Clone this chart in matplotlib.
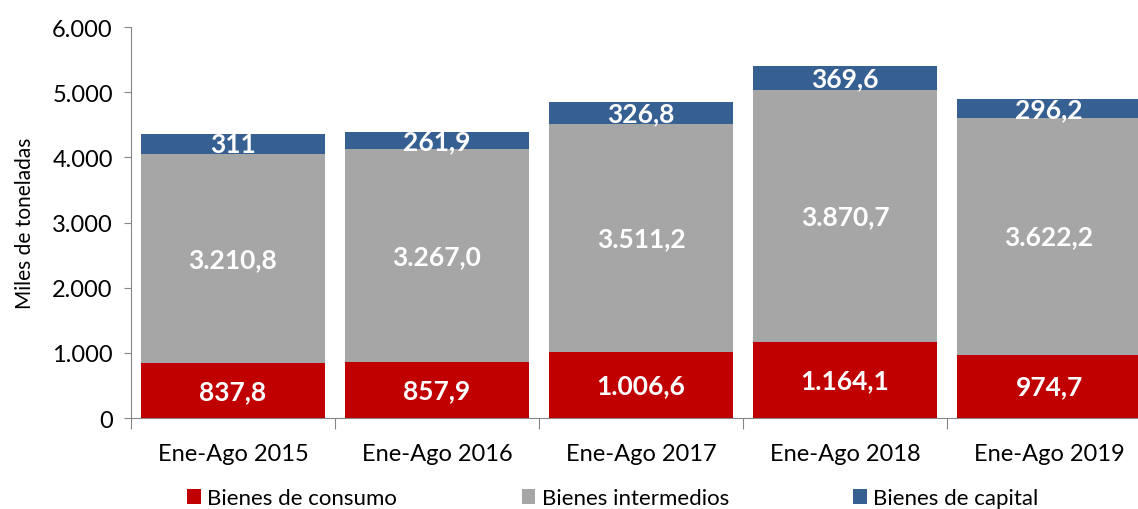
import numpy as np
import matplotlib.pyplot as plt
from matplotlib.ticker import FuncFormatter

plt.rcParams['font.family'] = ['Lato', 'DejaVu Sans']

categorias = ["Ene-Ago 2015", "Ene-Ago 2016", "Ene-Ago 2017", "Ene-Ago 2018", "Ene-Ago 2019"]
consumo = [837.8, 857.9, 1006.6, 1164.1, 974.7]
intermedios = [3210.8, 3267.0, 3511.2, 3870.7, 3622.2]
capital = [311.0, 261.9, 326.8, 369.6, 296.2]
lab_consumo = ["837,8", "857,9", "1.006,6", "1.164,1", "974,7"]
lab_intermedios = ["3.210,8", "3.267,0", "3.511,2", "3.870,7", "3.622,2"]
lab_capital = ["311", "261,9", "326,8", "369,6", "296,2"]

c_rojo = "#C00000"
c_gris = "#A6A6A6"
c_azul = "#376092"

fig = plt.figure(figsize=(11.38, 5.10), dpi=100)
ax = fig.add_axes([0.115, 0.1784, 0.8965, 0.7666])

x = np.arange(len(categorias))
w = 0.9
b1 = ax.bar(x, consumo, w, color=c_rojo, label="Bienes de consumo")
b2 = ax.bar(x, intermedios, w, bottom=consumo, color=c_gris, label="Bienes intermedios")
base3 = np.array(consumo) + np.array(intermedios)
b3 = ax.bar(x, capital, w, bottom=base3, color=c_azul, label="Bienes de capital")

for i in range(len(x)):
    ax.text(x[i], consumo[i] / 2, lab_consumo[i], ha='center', va='center',
            color='white', fontsize=19, fontweight='bold')
    ax.text(x[i], consumo[i] + intermedios[i] / 2, lab_intermedios[i], ha='center', va='center',
            color='white', fontsize=19, fontweight='bold')
    ax.text(x[i], base3[i] + capital[i] / 2, lab_capital[i], ha='center', va='center',
            color='white', fontsize=19, fontweight='bold')

ax.set_xlim(-0.5, len(x) - 0.5)
ax.set_ylim(0, 6000)
ax.set_yticks(np.arange(0, 6001, 1000))
ax.yaxis.set_major_formatter(FuncFormatter(lambda v, p: f"{int(v):,}".replace(",", ".")))
ax.set_xticks(np.arange(-0.5, len(x), 1.0))
ax.set_xticklabels([])
ax.set_xticks(x, minor=True)
ax.set_xticklabels(categorias, minor=True)
ax.tick_params(axis='x', which='minor', length=0, pad=18, labelsize=17)
ax.tick_params(axis='x', which='major', length=8, color='#868686')
ax.tick_params(axis='y', length=5, color='#868686', labelsize=17, pad=8)

for s in ['top', 'right']:
    ax.spines[s].set_visible(False)
for s in ['left', 'bottom']:
    ax.spines[s].set_color('#868686')

ax.set_ylabel("Miles de toneladas", fontsize=15, labelpad=12)

leg = fig.legend(handles=[b1, b2, b3], loc='lower left', bbox_to_anchor=(0.147, -0.038),
                 ncol=3, frameon=False, fontsize=16, handlelength=0.6, handleheight=0.6,
                 handletextpad=0.3, columnspacing=5.6)

fig.savefig("out.png", dpi=100)
